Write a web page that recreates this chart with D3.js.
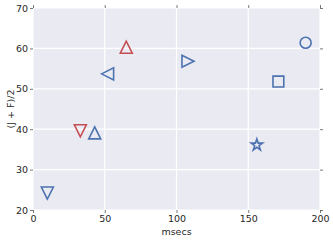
<!DOCTYPE html>
<html>
<head>
<meta charset="utf-8">
<script src="https://cdn.jsdelivr.net/npm/d3@7"></script>
<style>
  body { margin: 0; background: #fff; }
  text { font-family: "DejaVu Sans", sans-serif; fill: #262626; }
</style>
</head>
<body>
<div id="chart"></div>
<script>
// data
var msecs   = [10, 33, 43, 52, 65, 108, 171, 190, 156];
var jf      = [24.2, 39.6, 39.1, 53.7, 60.3, 56.8, 51.8, 61.4, 36.1];
var markers = ["tri_down", "tri_down", "tri_up", "tri_left", "tri_up", "tri_right", "square", "circle", "star"];
var groups  = ["b", "r", "b", "b", "r", "b", "b", "b", "b"];
var xTicks  = [0, 50, 100, 150, 200];
var yTicks  = [20, 30, 40, 50, 60, 70];

var W = 333, H = 240;
var m = {top: 8, right: 13, bottom: 30, left: 33};
var colors = {b: "#4C72B0", r: "#C44E52"};

// marker shapes, drawn roughly like matplotlib ones (r = half size)
function tri(pts) {
  return {draw: function(c, r) {
    c.moveTo(pts[0][0] * r, pts[0][1] * r);
    c.lineTo(pts[1][0] * r, pts[1][1] * r);
    c.lineTo(pts[2][0] * r, pts[2][1] * r);
    c.closePath();
  }};
}
var shapes = {
  tri_up:    tri([[0, -1], [-1, 1], [1, 1]]),
  tri_down:  tri([[0, 1], [-1, -1], [1, -1]]),
  tri_left:  tri([[-1, 0], [1, -1], [1, 1]]),
  tri_right: tri([[1, 0], [-1, -1], [-1, 1]]),
  square: {draw: function(c, r) { r = r * 0.9; c.rect(-r, -r, 2 * r, 2 * r); }},
  circle: {draw: function(c, r) { r = r * 0.92; c.moveTo(r, 0); c.arc(0, 0, r, 0, 2 * Math.PI); }},
  star: {draw: function(c, r) {
    for (var i = 0; i < 10; i++) {
      var rr = i % 2 ? r * 0.381966 : r;
      var a = -Math.PI / 2 + i * Math.PI / 5;
      if (i === 0) c.moveTo(rr * Math.cos(a), rr * Math.sin(a));
      else c.lineTo(rr * Math.cos(a), rr * Math.sin(a));
    }
    c.closePath();
  }}
};

var svg = d3.select("#chart").append("svg")
  .attr("width", W)
  .attr("height", H);

var w = W - m.left - m.right,
  h = H - m.top - m.bottom;

var x = d3.scaleLinear().domain([0, 200]).range([0, w]);
var y = d3.scaleLinear().domain([20, 70]).range([h, 0]);

var g = svg.append("g").attr("transform", "translate(" + m.left + "," + m.top + ")");

g.append("rect")
  .attr("width", w)
  .attr("height", h)
  .attr("fill", "#EAEAF2");

// grid
g.selectAll(".vgrid").data(xTicks).enter().append("line")
  .attr("x1", function(d) { return x(d); })
  .attr("x2", function(d) { return x(d); })
  .attr("y1", 0).attr("y2", h)
  .attr("stroke", "#fff").attr("stroke-width", 1.2);
g.selectAll(".hgrid").data(yTicks).enter().append("line")
  .attr("y1", function(d) { return y(d); })
  .attr("y2", function(d) { return y(d); })
  .attr("x1", 0).attr("x2", w)
  .attr("stroke", "#fff").attr("stroke-width", 1.2);

// axes, ticks on all four sides
function style(sel, labels) {
  sel.select(".domain").remove();
  sel.selectAll(".tick line").attr("stroke", "#555").attr("stroke-width", 0.8);
  sel.selectAll(".tick text").style("font-size", "9.5px").attr("fill", "#262626");
  if (!labels) sel.selectAll(".tick text").remove();
}
g.append("g").attr("transform", "translate(0," + h + ")")
  .call(d3.axisBottom(x).tickValues(xTicks).tickSize(3).tickPadding(2))
  .call(style, true);
g.append("g")
  .call(d3.axisLeft(y).tickValues(yTicks).tickSize(3).tickPadding(2))
  .call(style, true);
g.append("g")
  .call(d3.axisTop(x).tickValues(xTicks).tickSize(3))
  .call(style, false);
g.append("g").attr("transform", "translate(" + w + ",0)")
  .call(d3.axisRight(y).tickValues(yTicks).tickSize(3))
  .call(style, false);

// points
g.selectAll(".pt").data(msecs).enter().append("path")
  .attr("transform", function(d, i) { return "translate(" + x(d) + "," + y(jf[i]) + ")"; })
  .attr("d", function(d, i) { return d3.symbol().type(shapes[markers[i]]).size(6)(); })
  .attr("fill", "none")
  .attr("stroke", function(d, i) { return colors[groups[i]]; })
  .attr("stroke-width", 1.6)
  .attr("stroke-linejoin", "miter");

// labels
svg.append("text")
  .attr("x", m.left + w / 2)
  .attr("y", 235)
  .attr("text-anchor", "middle")
  .style("font-size", "9.5px")
  .text("msecs");
svg.append("text")
  .attr("transform", "translate(13.5," + (m.top + h / 2) + ") rotate(-90)")
  .attr("text-anchor", "middle")
  .style("font-size", "9.5px")
  .text("(J + F)/2");
</script>
</body>
</html>
